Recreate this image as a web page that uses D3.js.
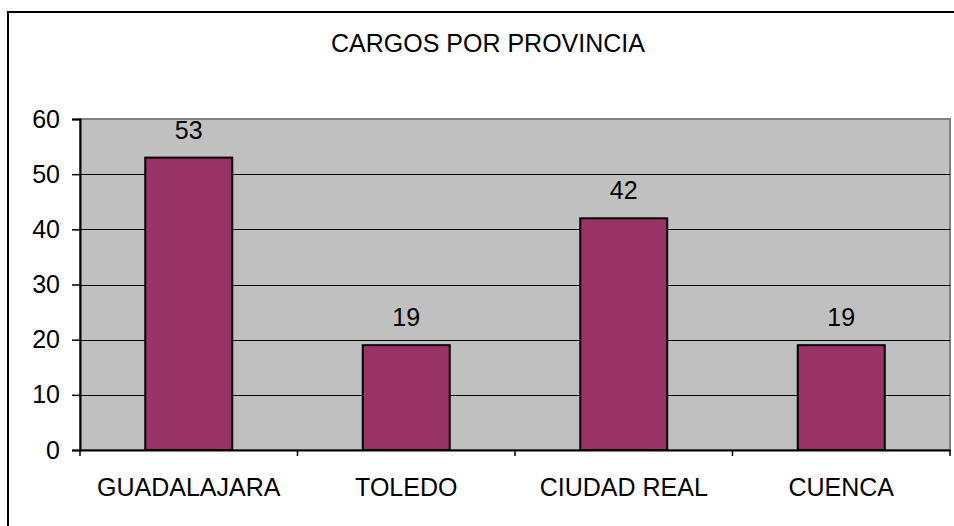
<!DOCTYPE html>
<html>
<head>
<meta charset="utf-8">
<script src="https://cdn.jsdelivr.net/npm/d3@7/dist/d3.min.js"></script>
<style>
  html, body { margin: 0; padding: 0; background: #fff; }
  svg { display: block; font-family: "Liberation Sans", Arial, sans-serif; }
</style>
</head>
<body>
<div id="chart"></div>
<script>
// data
const provincias = ['GUADALAJARA', 'TOLEDO', 'CIUDAD REAL', 'CUENCA'];
const cargos = [53, 19, 42, 19];
const yTicks = [0, 10, 20, 30, 40, 50, 60];
const titulo = 'CARGOS POR PROVINCIA';

const width = 954;
const height = 526;
const plot = { left: 80, right: 950, top: 119, bottom: 450 };

const svg = d3.select('#chart')
  .append('svg')
  .attr('width', width)
  .attr('height', height);

// outer chart frame (cropped on right / bottom)
svg.append('rect')
  .attr('x', 8)
  .attr('y', 12)
  .attr('width', 960)
  .attr('height', 540)
  .attr('fill', '#fff')
  .attr('stroke', '#000')
  .attr('stroke-width', 2);

// title
svg.append('text')
  .attr('x', 488)
  .attr('y', 52)
  .attr('text-anchor', 'middle')
  .attr('font-size', 25)
  .attr('fill', '#000')
  .text(titulo);

// scales
const x = d3.scaleBand()
  .domain(provincias)
  .range([plot.left, plot.right])
  .paddingInner(0.6)
  .paddingOuter(0.3);

const xBand = d3.scaleBand()
  .domain(provincias)
  .range([plot.left, plot.right]);

const y = d3.scaleLinear()
  .domain([0, 60])
  .range([plot.bottom, plot.top]);

// plot area
svg.append('rect')
  .attr('x', plot.left)
  .attr('y', plot.top)
  .attr('width', plot.right - plot.left)
  .attr('height', plot.bottom - plot.top)
  .attr('fill', '#c0c0c0')
  .attr('stroke', '#808080')
  .attr('stroke-width', 2);

// gridlines
svg.selectAll('.grid')
  .data(yTicks.filter((d) => d > 0 && d < 60))
  .enter().append('line')
  .attr('class', 'grid')
  .attr('x1', plot.left)
  .attr('x2', plot.right)
  .attr('y1', (d) => Math.round(y(d)) + 0.5)
  .attr('y2', (d) => Math.round(y(d)) + 0.5)
  .attr('stroke', '#000')
  .attr('stroke-width', 1);

// bars
svg.selectAll('.bar')
  .data(cargos)
  .enter().append('rect')
  .attr('class', 'bar')
  .attr('x', (d, i) => x(provincias[i]))
  .attr('y', (d) => y(d))
  .attr('width', x.bandwidth())
  .attr('height', (d) => y(0) - y(d))
  .attr('fill', '#993366')
  .attr('stroke', '#000')
  .attr('stroke-width', 2);

// data labels
svg.selectAll('.label')
  .data(cargos)
  .enter().append('text')
  .attr('class', 'label')
  .attr('x', (d, i) => x(provincias[i]) + x.bandwidth() / 2)
  .attr('y', (d) => y(d) - 19)
  .attr('text-anchor', 'middle')
  .attr('font-size', 25)
  .attr('fill', '#000')
  .text((d) => d);

// y axis
const yAxis = svg.append('g')
  .attr('transform', 'translate(' + plot.left + ',0)')
  .call(d3.axisLeft(y).tickValues(yTicks).tickSize(8).tickPadding(12));
yAxis.select('.domain').attr('stroke', '#000').attr('stroke-width', 2);
yAxis.selectAll('.tick line').attr('stroke', '#000').attr('stroke-width', 1.5);
yAxis.selectAll('.tick text')
  .attr('font-size', 25)
  .attr('font-family', '"Liberation Sans", Arial, sans-serif')
  .attr('fill', '#000');

// x axis
const xAxis = svg.append('g')
  .attr('transform', 'translate(0,' + plot.bottom + ')')
  .call(d3.axisBottom(xBand).tickSize(0).tickPadding(28));
xAxis.select('.domain').attr('stroke', '#000').attr('stroke-width', 2);
xAxis.selectAll('.tick text')
  .attr('font-size', 25)
  .attr('font-family', '"Liberation Sans", Arial, sans-serif')
  .attr('fill', '#000');

// category boundary ticks
svg.selectAll('.xtick')
  .data(d3.range(provincias.length + 1))
  .enter().append('line')
  .attr('class', 'xtick')
  .attr('x1', (d) => plot.left + d * xBand.step())
  .attr('x2', (d) => plot.left + d * xBand.step())
  .attr('y1', plot.bottom)
  .attr('y2', plot.bottom + 6)
  .attr('stroke', '#000')
  .attr('stroke-width', 1.5);
</script>
</body>
</html>
